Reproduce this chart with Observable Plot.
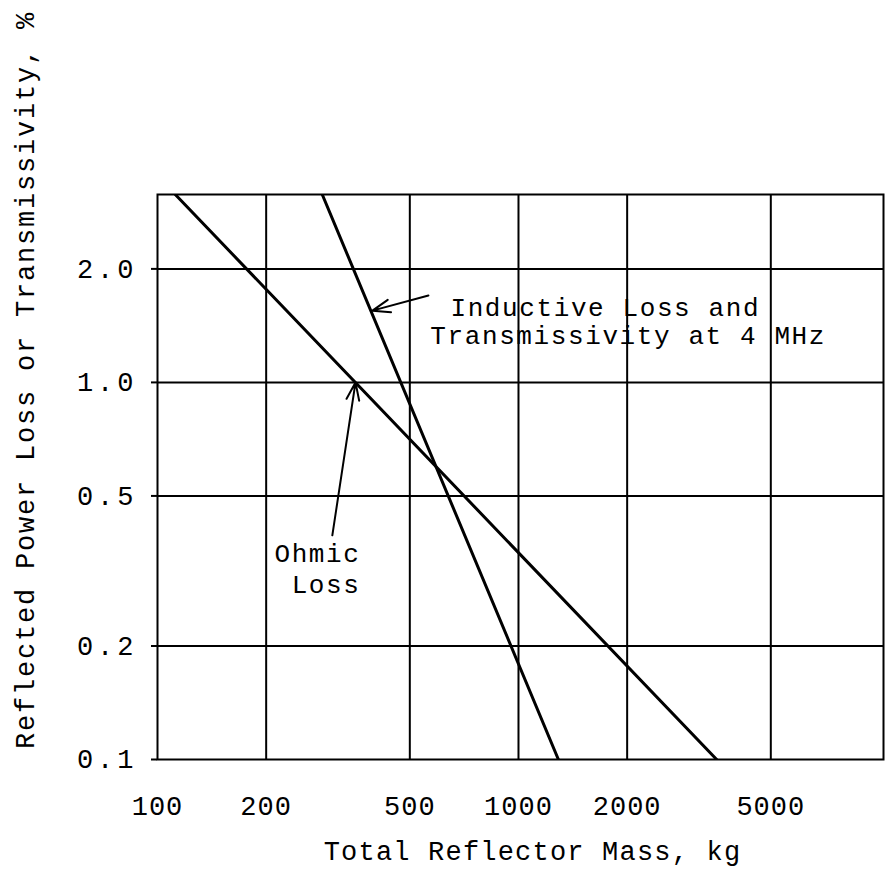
<!DOCTYPE html>
<html><head><meta charset="utf-8">
<script src="https://cdn.jsdelivr.net/npm/d3@7"></script>
<script src="https://cdn.jsdelivr.net/npm/@observablehq/plot@0.6"></script>
<style>
body{margin:0;background:#fff}
</style>
</head><body>
<script>
// Tick values
const xTicks = [100, 200, 500, 1000, 2000, 5000];
const yTicks = [0.1, 0.2, 0.5, 1.0, 2.0];
const xGrid = [200, 500, 1000, 2000, 5000];
const yGrid = [0.2, 0.5, 1.0, 2.0];

// Series (log–log straight lines)
const ohmicMass = [112, 3540];
const ohmicLoss = [3.15, 0.1];
const inductiveMass = [286, 1290];
const inductiveLoss = [3.15, 0.1];

const xLabel = "Total Reflector Mass, kg";
const yLabel = "Reflected Power Loss or Transmissivity, %";

// Annotations
const inductiveNote = ["Inductive Loss and", "Transmissivity at 4 MHz"];
const inductiveNoteX = [648, 570];
const inductiveNoteY = [1.496, 1.261];
const ohmicNote = ["Ohmic", "Loss"];
const ohmicNoteX = [365, 365];
const ohmicNoteY = [0.335, 0.277];
const arrowX1 = [563, 305];
const arrowY1 = [1.70, 0.393];
const arrowX2 = [394, 353.6];
const arrowY2 = [1.55, 1.0];

const ohmic = ohmicMass.map((m, i) => ({mass: m, value: ohmicLoss[i]}));
const inductive = inductiveMass.map((m, i) => ({mass: m, value: inductiveLoss[i]}));
const indNotes = inductiveNote.map((t, i) => ({t, x: inductiveNoteX[i], y: inductiveNoteY[i]}));
const ohmNotes = ohmicNote.map((t, i) => ({t, x: ohmicNoteX[i], y: ohmicNoteY[i]}));
const arrows = arrowX1.map((x1, i) => ({x1, y1: arrowY1[i], x2: arrowX2[i], y2: arrowY2[i]}));

const font = "'Liberation Mono', 'DejaVu Sans Mono', monospace";

const chart = Plot.plot({
  width: 887,
  height: 869,
  marginLeft: 157,
  marginRight: 4,
  marginTop: 194,
  marginBottom: 110,
  x: {type: "log", domain: [100, 10260], axis: null},
  y: {type: "log", domain: [0.1, 3.15], axis: null},
  style: {fontFamily: font, fontSize: "27px", color: "black", background: "white"},
  marks: [
    Plot.gridX(xGrid, {stroke: "black", strokeOpacity: 1, strokeWidth: 2}),
    Plot.gridY(yGrid, {stroke: "black", strokeOpacity: 1, strokeWidth: 2}),
    Plot.frame({stroke: "black", strokeWidth: 2}),
    Plot.axisY(yTicks, {tickSize: 6, tickPadding: 14, tickFormat: () => "", label: null, strokeWidth: 2}),
    Plot.text(xTicks, {x: d => d, text: d => String(d), frameAnchor: "bottom", dy: 55, lineAnchor: "bottom", fontSize: 27, fill: "black"}),
    Plot.text(yTicks, {y: d => d, text: d => d.toFixed(1), frameAnchor: "left", textAnchor: "end", dx: -20, fontSize: 27, fill: "black"}),
    Plot.line(ohmic, {x: "mass", y: "value", stroke: "black", strokeWidth: 3, clip: true}),
    Plot.line(inductive, {x: "mass", y: "value", stroke: "black", strokeWidth: 3, clip: true}),
    Plot.arrow(arrows, {x1: "x1", y1: "y1", x2: "x2", y2: "y2", stroke: "black", strokeWidth: 2, headLength: 14, headAngle: 40}),
    Plot.text(indNotes, {x: "x", y: "y", text: "t", textAnchor: "start", lineAnchor: "bottom", fontSize: 26, fill: "black"}),
    Plot.text(ohmNotes, {x: "x", y: "y", text: "t", textAnchor: "end", lineAnchor: "bottom", fontSize: 26, fill: "black"}),
    Plot.text([xLabel], {text: d => d, frameAnchor: "bottom", dx: 12, dy: 100, lineAnchor: "bottom", fontSize: 27, fill: "black"}),
    Plot.text([yLabel], {text: d => d, frameAnchor: "left", textAnchor: "middle", rotate: -90, dx: -124, dy: -97, lineAnchor: "bottom", fontSize: 27, fill: "black"})
  ]
});
document.body.appendChild(chart);

// Typewriter-like letter spacing
const spacing = new Map([
  [xLabel, 1.2], [yLabel, 1.8],
  ...inductiveNote.map(t => [t, 1.6]), ...ohmicNote.map(t => [t, 1.6]),
  ...xTicks.map(t => [String(t), 1]), ...yTicks.map(t => [t.toFixed(1), 4])
]);
d3.select(chart).selectAll("text").each(function() {
  const s = spacing.get(this.textContent);
  if (s != null) this.style.letterSpacing = s + "px";
});
</script>
</body></html>
